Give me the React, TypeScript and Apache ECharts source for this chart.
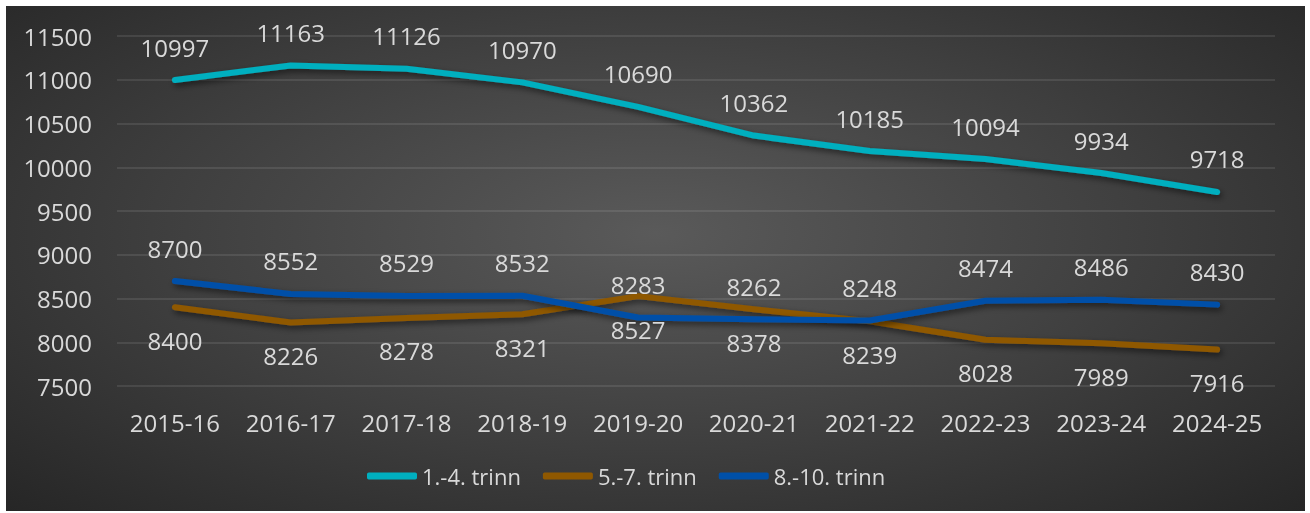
import React, { useEffect, useRef } from "react";
import * as echarts from "echarts";

const categories = ["2015-16", "2016-17", "2017-18", "2018-19", "2019-20", "2020-21", "2021-22", "2022-23", "2023-24", "2024-25"];
const trinn14 = [10997, 11163, 11126, 10970, 10690, 10362, 10185, 10094, 9934, 9718];
const trinn57 = [8400, 8226, 8278, 8321, 8527, 8378, 8239, 8028, 7989, 7916];
const trinn810 = [8700, 8552, 8529, 8532, 8283, 8262, 8248, 8474, 8486, 8430];
const seriesNames = ["1.-4. trinn", "5.-7. trinn", "8.-10. trinn"];
const seriesColors = ["#00AFBF", "#8F5800", "#0050A8"];

const FONT = "'Open Sans', 'Noto Sans', sans-serif";
const TEXT = "#D9D9D9";

export default function App() {
  const ref = useRef<HTMLDivElement>(null);
  useEffect(() => {
    if (!ref.current) return;
    const chart = echarts.init(ref.current, undefined, { renderer: "svg" });
    const mk = (name: string, data: number[], color: string, pos: string) => ({
      name,
      type: "line",
      data,
      symbol: "circle",
      symbolSize: 0,
      showSymbol: true,
      lineStyle: {
        color,
        width: 6,
        cap: "round",
        join: "round",
        shadowColor: "rgba(0,0,0,0.55)",
        shadowBlur: 6,
        shadowOffsetX: 2,
        shadowOffsetY: 3,
      },
      itemStyle: { color },
      label: {
        show: true,
        position: pos,
        distance: 21,
        color: TEXT,
        fontFamily: FONT,
        fontSize: 24,
      },
      emphasis: { disabled: true },
    });
    chart.setOption({
      animation: false,
      backgroundColor: "transparent",
      textStyle: { fontFamily: FONT },
      grid: { left: 111, right: 30, top: 30, bottom: 125, containLabel: false },
      legend: {
        data: seriesNames,
        left: 361,
        top: 459,
        padding: 0,
        icon: "roundRect",
        itemWidth: 50,
        itemHeight: 7,
        itemGap: 22,
        textStyle: { color: TEXT, fontFamily: FONT, fontSize: 22 },
      },
      xAxis: {
        type: "category",
        data: categories,
        boundaryGap: true,
        axisLine: { show: false },
        axisTick: { show: false },
        axisLabel: { color: TEXT, fontFamily: FONT, fontSize: 24, margin: 24, interval: 0 },
      },
      yAxis: {
        type: "value",
        min: 7500,
        max: 11500,
        interval: 500,
        axisLine: { show: false },
        axisTick: { show: false },
        axisLabel: { color: TEXT, fontFamily: FONT, fontSize: 24, margin: 25, formatter: (v: number) => String(v) },
        splitLine: { lineStyle: { color: "rgba(255,255,255,0.13)", width: 1.5 } },
      },
      series: [
        mk(seriesNames[0], trinn14, seriesColors[0], "top"),
        mk(seriesNames[1], trinn57, seriesColors[1], "bottom"),
        mk(seriesNames[2], trinn810, seriesColors[2], "top"),
      ],
    });
    return () => chart.dispose();
  }, []);
  return (
    <div
      ref={ref}
      style={{
        position: "fixed",
        left: 6,
        top: 6,
        width: 1299,
        height: 505,
        background: "radial-gradient(ellipse at 50% 45%, #5a5a5a 0%, #3e3e3e 55%, #262626 100%)",
      }}
    />
  );
}
